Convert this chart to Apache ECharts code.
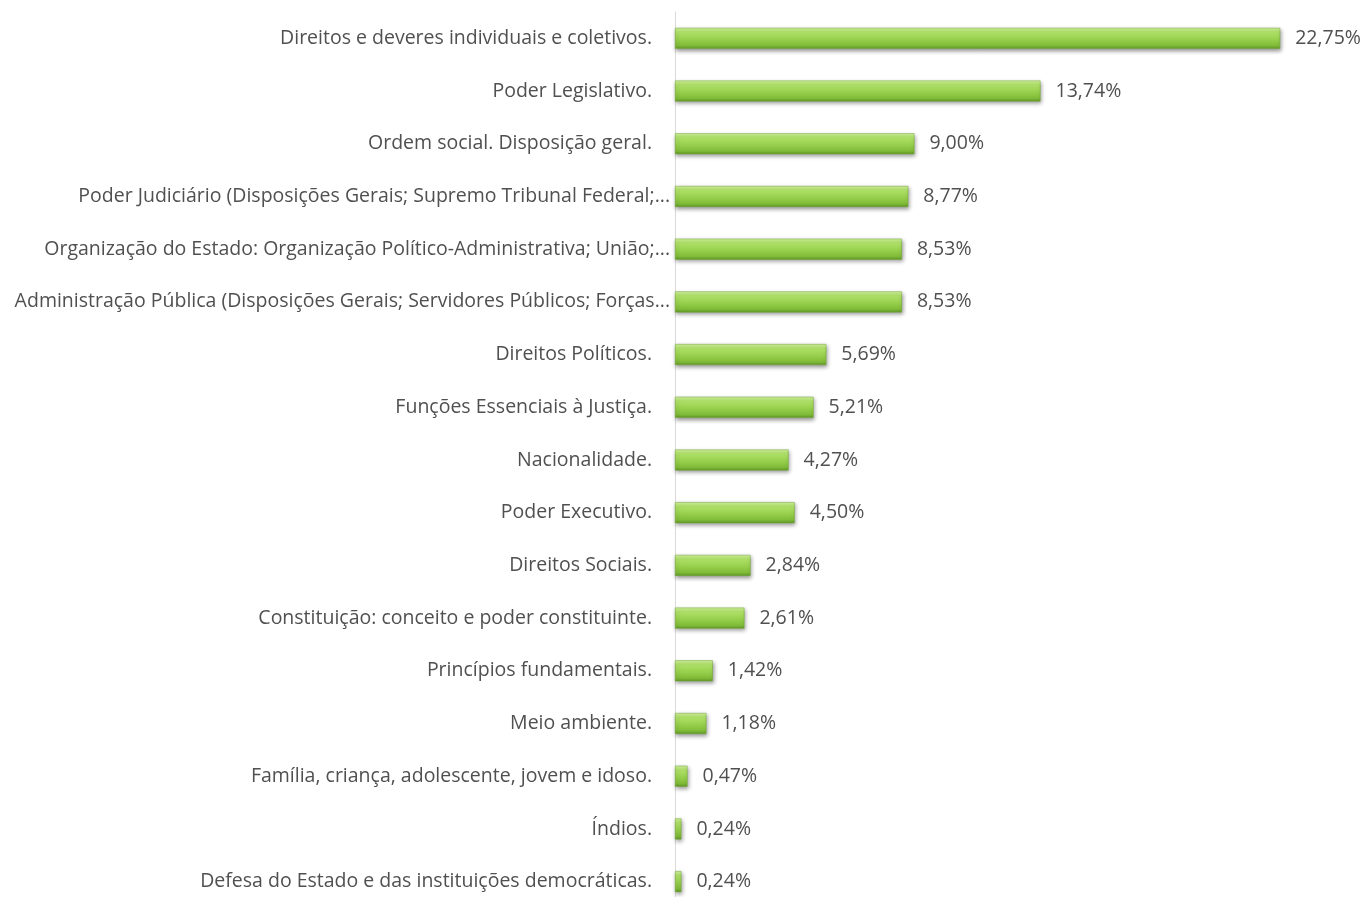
<!DOCTYPE html>
<html><head><meta charset="utf-8">
<script src="https://cdn.jsdelivr.net/npm/echarts@6/dist/echarts.min.js"></script>
<style>html,body{margin:0;padding:0;background:#fff;overflow:hidden}#c{width:1364px;height:912px}</style>
</head><body><div id="c"></div>
<script>
const categories = [
  "Direitos e deveres individuais e coletivos.",
  "Poder Legislativo.",
  "Ordem social. Disposição geral.",
  "Poder Judiciário (Disposições Gerais; Supremo Tribunal Federal;...",
  "Organização do Estado: Organização Político-Administrativa; União;...",
  "Administração Pública (Disposições Gerais; Servidores Públicos; Forças...",
  "Direitos Políticos.",
  "Funções Essenciais à Justiça.",
  "Nacionalidade.",
  "Poder Executivo.",
  "Direitos Sociais.",
  "Constituição: conceito e poder constituinte.",
  "Princípios fundamentais.",
  "Meio ambiente.",
  "Família, criança, adolescente, jovem e idoso.",
  "Índios.",
  "Defesa do Estado e das instituições democráticas."
];
const values = [22.75, 13.74, 9.00, 8.77, 8.53, 8.53, 5.69, 5.21, 4.27, 4.50, 2.84, 2.61, 1.42, 1.18, 0.47, 0.24, 0.24];

const FONT = '"Open Sans", sans-serif';
const chart = echarts.init(document.getElementById('c'));
chart.setOption({
  animation: false,
  backgroundColor: '#ffffff',
  grid: { left: 675, width: 665, top: 12, height: 896, containLabel: false, outerBoundsMode: 'none' },
  xAxis: { type: 'value', min: 0, max: 25, show: false },
  yAxis: {
    type: 'category', data: categories, inverse: true,
    axisLine: { show: true, lineStyle: { color: '#d9d9d9', width: 1 } },
    axisTick: { show: false },
    axisLabel: {
      margin: 5, color: '#505050', fontFamily: FONT, fontSize: 19.5,
      formatter: v => /\.\.\.$/.test(v) ? '{e|' + v + '}' : '{n|' + v + '}',
      rich: {
        e: { color: '#505050', fontFamily: FONT, fontSize: 19.5 },
        n: { color: '#505050', fontFamily: FONT, fontSize: 19.5, padding: [0, 18, 0, 0] }
      }
    }
  },
  series: [{
    type: 'bar', data: values, barWidth: 21,
    itemStyle: {
      color: new echarts.graphic.LinearGradient(0, 0, 0, 1, [
        { offset: 0, color: '#d3f2a0' },
        { offset: 0.18, color: '#b2e36c' },
        { offset: 0.55, color: '#97d04c' },
        { offset: 0.85, color: '#80bb38' },
        { offset: 1, color: '#5f9626' }
      ]),
      borderColor: '#72a834', borderWidth: 0.5,
      shadowBlur: 4, shadowOffsetX: 1, shadowOffsetY: 2, shadowColor: 'rgba(0,0,0,0.4)'
    },
    label: {
      show: true, position: 'right', distance: 15,
      formatter: p => p.value.toFixed(2).replace('.', ',') + '%',
      color: '#505050', fontFamily: FONT, fontSize: 19.5
    }
  }]
});
</script></body></html>
